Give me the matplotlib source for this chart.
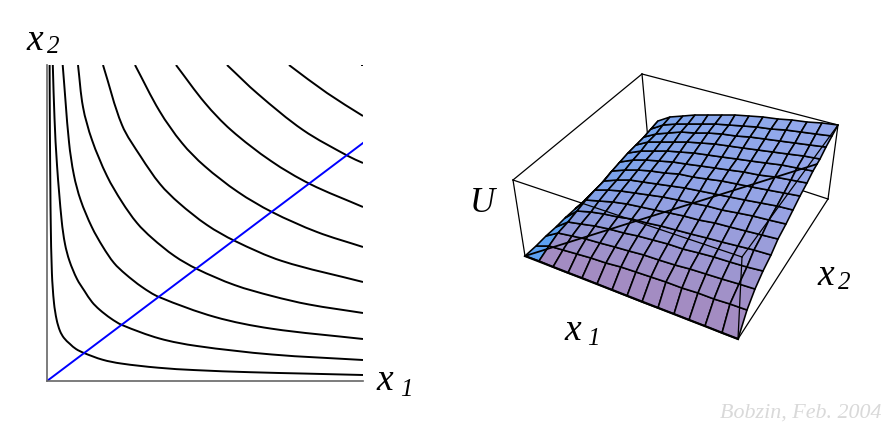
import numpy as np
import matplotlib
matplotlib.use('Agg')
import matplotlib.pyplot as plt
from matplotlib.path import Path
from matplotlib.patches import PathPatch

W, H = 884, 423

# indifference curves (x1, x2 in pixels from the origin)
curve1_x1 = [2.6, 2.9, 3.4, 3.7, 4.9, 7, 9.7, 13, 17, 23, 29, 37, 55.5, 74, 111, 148, 203, 259, 316]
curve1_x2 = [316, 250, 190, 161, 108, 78, 61, 50, 43, 37, 32, 28, 21.3, 17.5, 13.3, 10.9, 8.8, 7.4, 6]
curve2_x1 = [5.8, 7.5, 10, 14.7, 18, 22.5, 30, 37.5, 45, 52.5, 63.8, 75, 112.5, 150, 225, 316]
curve2_x2 = [316, 263, 216, 160, 137, 120, 102, 90, 79, 71.4, 62.6, 56, 42.5, 35, 26.5, 21]
curve3_x1 = [15.7, 22, 26.9, 33.6, 44.8, 56, 67, 78.4, 95, 112, 168, 224, 316]
curve3_x2 = [316, 239, 206, 181, 154, 134, 118, 107, 94, 84, 64, 52.4, 42]
curve4_x1 = [31, 36, 45, 60, 75, 90, 105, 127.5, 150, 187.5, 225, 262, 316]
curve4_x2 = [316, 274, 241, 205, 179, 158, 143, 125, 112, 96, 85, 76.5, 68]
curve5_x1 = [56, 75, 94, 113, 132, 160, 188, 235, 316]
curve5_x2 = [316, 256, 224, 197, 178, 156, 140, 120, 99]
curve6_x1 = [88, 112.5, 135, 157.5, 191, 225, 270, 316]
curve6_x2 = [316, 270, 238, 215, 189, 169, 149, 134]
curve7_x1 = [129, 158, 184, 224, 263, 316]
curve7_x2 = [316, 278, 251, 220, 197, 174]
curve8_x1 = [180, 211, 256, 301, 316]
curve8_x2 = [316, 287, 251, 225, 218]
curve9_x1 = [242, 280, 316]
curve9_x2 = [316, 288, 265]
curve10_x1 = [314, 316]
curve10_x2 = [316, 316]
curves = [(curve1_x1, curve1_x2), (curve2_x1, curve2_x2), (curve3_x1, curve3_x2),
          (curve4_x1, curve4_x2), (curve5_x1, curve5_x2), (curve6_x1, curve6_x2),
          (curve7_x1, curve7_x2), (curve8_x1, curve8_x2), (curve9_x1, curve9_x2),
          (curve10_x1, curve10_x2)]
ray_x1 = [0, 316]
ray_x2 = [0, 238]

# utility surface: edge profiles, 14 x 14 cells
u_x1 = [0, .343, .455, .536, .602, .659, .71, .755, .797, .836, .873, .907, .939, .97, 1]
u_x2 = [0, .21, .317, .403, .478, .545, .607, .664, .719, .77, .82, .868, .913, .957, 1]
x1_grid = [i / 14 for i in range(15)]
x2_grid = [i / 14 for i in range(15)]
path_x1 = [0, 1]
path_x2 = [0, .753]
path_u = [0, .845]

# box corners on screen: origin, x1 end, far corner, x2 end
box_bottom = [(525, 256), (738, 339), (828, 199), (648, 140)]
box_top = [(513, 180), (742, 257), (838, 125), (642, 74)]

# cell shading
shade_x2 = [0, .15, .35, .5, .6, .7, .78, .84, .88, .92, .95, .97, 1, 1]
shade_x1 = [1, .55, .4, .32, .26, .2, .16, .12, .1, .08, .06, .04, .02, 0]
purple = np.array([.64, .55, .76])
periwinkle = np.array([.58, .66, .92])
bright = np.array([.36, .63, .95])


def homography(corners):
    unit = [(0, 0), (1, 0), (1, 1), (0, 1)]
    a, b = [], []
    for (u, v), (x, y) in zip(unit, corners):
        a.append([u, v, 1, 0, 0, 0, -u * x, -v * x])
        a.append([0, 0, 0, u, v, 1, -u * y, -v * y])
        b += [x, y]
    return np.append(np.linalg.solve(np.array(a, float), np.array(b, float)), 1).reshape(3, 3)


hb = homography(box_bottom)
ht = homography(box_top)


def project(x1, x2, z):
    x1, x2, z = np.asarray(x1, float), np.asarray(x2, float), np.asarray(z, float)
    p = np.stack([x1, x2, np.ones_like(x1)], axis=-1)
    pb = p @ hb.T
    pt = p @ ht.T
    sx = pb[..., 0] / pb[..., 2] * (1 - z) + pt[..., 0] / pt[..., 2] * z
    sy = pb[..., 1] / pb[..., 2] * (1 - z) + pt[..., 1] / pt[..., 2] * z
    return sx, sy


def smooth_line(ax, xs, ys, **kw):
    # cubic pieces through the read points, tangents from the neighbours
    pts = np.column_stack([xs, ys]).astype(float)
    d = np.hypot(*np.diff(pts, axis=0).T)
    m = np.zeros_like(pts)
    m[0] = (pts[1] - pts[0]) / d[0]
    m[-1] = (pts[-1] - pts[-2]) / d[-1]
    for k in range(1, len(pts) - 1):
        m[k] = (pts[k + 1] - pts[k - 1]) / (d[k - 1] + d[k])
    verts = [pts[0]]
    codes = [Path.MOVETO]
    for k in range(len(pts) - 1):
        verts += [pts[k] + m[k] * d[k] / 3, pts[k + 1] - m[k + 1] * d[k] / 3, pts[k + 1]]
        codes += [Path.CURVE4] * 3
    ax.add_patch(PathPatch(Path(verts, codes), fill=False, **kw))


fig = plt.figure(figsize=(W / 100, H / 100), dpi=100, facecolor='white')

# left panel
ax = fig.add_axes([47 / W, (H - 381) / H, 316 / W, 316 / H])
ax.set_xlim(0, 316)
ax.set_ylim(0, 316)
ax.set_xticks([])
ax.set_yticks([])
for side in ['top', 'right']:
    ax.spines[side].set_visible(False)
for side in ['left', 'bottom']:
    ax.spines[side].set_color('#666666')
    ax.spines[side].set_linewidth(1.2)
for c_x1, c_x2 in curves:
    smooth_line(ax, c_x1, c_x2, edgecolor='black', linewidth=1.4)
ax.plot(ray_x1, ray_x2, color='#0000ff', lw=1.4)

# right panel, in figure pixels
ax2 = fig.add_axes([0, 0, 1, 1], facecolor='none')
ax2.set_xlim(0, W)
ax2.set_ylim(H, 0)
ax2.axis('off')

box_lw = 0.9
corners = np.array(box_bottom + box_top, float)
# rear box edges sit behind the surface
for a, b in [(4, 7), (7, 6), (4, 0), (7, 3), (6, 2), (2, 3), (1, 2)]:
    ax2.plot(corners[[a, b], 0], corners[[a, b], 1], color='black', lw=box_lw, zorder=1)

g1, g2 = np.meshgrid(x1_grid, x2_grid, indexing='ij')
U = np.outer(u_x1, u_x2)
sx, sy = project(g1, g2, U)
cells = np.zeros((14, 14, 3))
for i in range(14):
    for j in range(14):
        base = purple + (periwinkle - purple) * shade_x2[j]
        mix = shade_x1[i] * (1 if i == 0 else shade_x2[j])
        cells[i, j] = base + (bright - base) * mix
ax2.pcolormesh(sx, sy, cells, shading='flat', edgecolors='black', linewidth=1.15,
               antialiased=True, zorder=2)

# front box edges and the expansion path are drawn over it
for a, b in [(4, 5), (5, 6), (5, 1)]:
    ax2.plot(corners[[a, b], 0], corners[[a, b], 1], color='black', lw=box_lw, zorder=3)
ax2.plot(*project(path_x1, path_x2, path_u), color='black', lw=1.3, zorder=3)
ax2.plot(sx[:, 0], sy[:, 0], color='black', lw=1.6, zorder=3)

# labels
serif = dict(family='Liberation Serif', style='italic', color='black', zorder=4)
ax2.text(26, 50, 'x', fontsize=27, **serif)
ax2.text(47, 53, '2', fontsize=18, **serif)
ax2.text(376, 390, 'x', fontsize=27, **serif)
ax2.text(400, 396, '1', fontsize=18, **serif)
ax2.text(470, 212, 'U', fontsize=25, **serif)
ax2.text(564, 340, 'x', fontsize=27, **serif)
ax2.text(587, 345, '1', fontsize=18, **serif)
ax2.text(817, 285, 'x', fontsize=27, **serif)
ax2.text(838, 289, '2', fontsize=18, **serif)
ax2.text(882, 418, 'Bobzin, Feb. 2004', fontsize=15.8, family='Liberation Serif',
         style='italic', color='#d9d9d9', ha='right')

fig.savefig('out.png', dpi=100)
